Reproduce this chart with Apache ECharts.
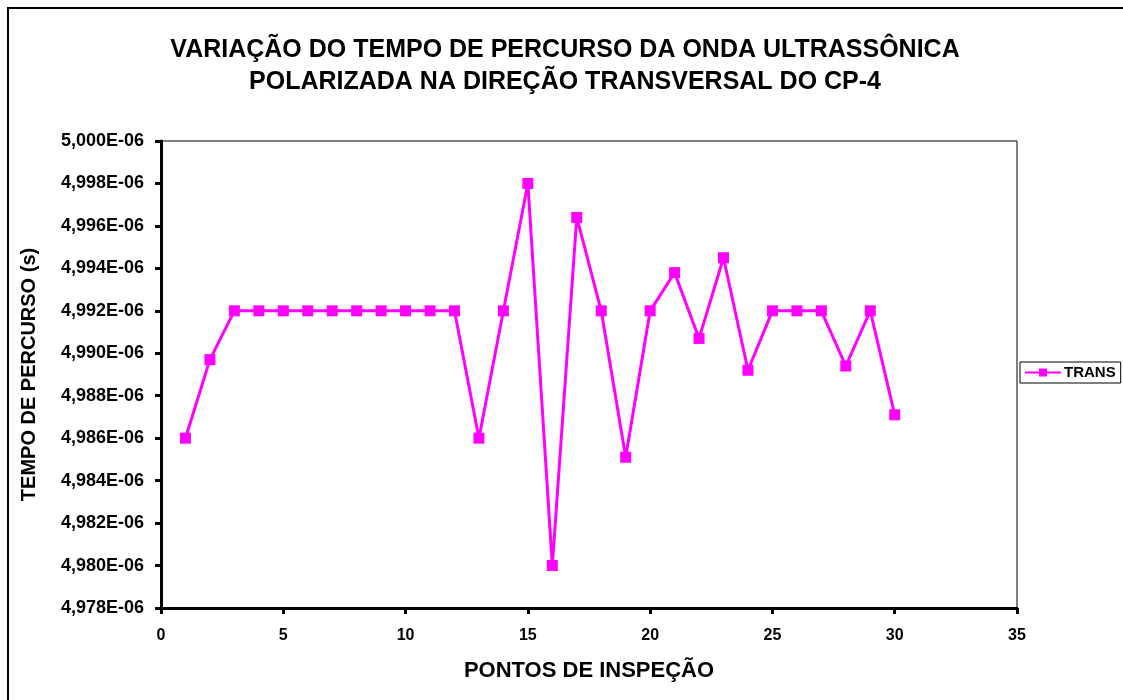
<!DOCTYPE html>
<html>
<head>
<meta charset="utf-8">
<script src="https://cdn.jsdelivr.net/npm/echarts@6/dist/echarts.min.js"></script>
<style>
  html, body { margin: 0; padding: 0; background: #fff; }
  #chart { width: 1123px; height: 700px; }
</style>
</head>
<body>
<div id="chart"></div>
<script>
// Inspection points along the specimen
const points = [1,2,3,4,5,6,7,8,9,10,11,12,13,14,15,16,17,18,19,20,21,22,23,24,25,26,27,28,29,30];
// Travel time in microseconds (shown on the axis as E-06 seconds)
const transTime = [
  4.9860, 4.9897, 4.9920, 4.9920, 4.9920, 4.9920, 4.9920, 4.9920, 4.9920, 4.9920,
  4.9920, 4.9920, 4.9860, 4.9920, 4.9980, 4.9800, 4.9964, 4.9920, 4.9851, 4.9920,
  4.9938, 4.9907, 4.9945, 4.9892, 4.9920, 4.9920, 4.9920, 4.9894, 4.9920, 4.9871
];
const seriesName = 'TRANS';
const titleLines = ['VARIAÇÃO DO TEMPO DE PERCURSO DA ONDA ULTRASSÔNICA', 'POLARIZADA NA DIREÇÃO TRANSVERSAL DO CP-4'];
const xName = 'PONTOS DE INSPEÇÃO';
const yName = 'TEMPO DE PERCURSO (s)';

const font = '"Liberation Sans", Arial, sans-serif';
const chart = echarts.init(document.getElementById('chart'));

chart.setOption({
  backgroundColor: '#ffffff',
  animation: false,
  title: {
    text: titleLines.join('\n'),
    left: 560,
    top: 29,
    textAlign: 'center',
    textStyle: { fontFamily: font, fontWeight: 'bold', fontSize: 25, color: '#000', lineHeight: 32 }
  },
  legend: {
    data: [seriesName],
    left: 1020,
    top: 362,
    padding: [3, 5, 3, 4],
    itemWidth: 36,
    itemHeight: 10,
    itemGap: 4,
    borderColor: '#000',
    borderWidth: 1,
    textStyle: { fontFamily: font, fontWeight: 'bold', fontSize: 15, color: '#000', padding: [0, 0, 0, -2] }
  },
  grid: { left: 161, top: 141, right: 106, bottom: 92, show: true, borderColor: '#000', borderWidth: 1 },
  xAxis: {
    type: 'value',
    min: 0, max: 35, interval: 5,
    name: xName,
    nameLocation: 'middle',
    nameGap: 52,
    nameTextStyle: { fontFamily: font, fontWeight: 'bold', fontSize: 22, color: '#000' },
    axisLine: { lineStyle: { color: '#000', width: 3 } },
    axisTick: { show: true, inside: false, length: 6, lineStyle: { color: '#000', width: 3 } },
    axisLabel: { fontFamily: font, fontWeight: 'bold', fontSize: 16, color: '#000', margin: 20 },
    splitLine: { show: false }
  },
  yAxis: {
    type: 'value',
    min: 4.978, max: 5.000, interval: 0.002,
    name: yName,
    nameLocation: 'middle',
    nameGap: 122,
    nameRotate: 90,
    nameTextStyle: { fontFamily: font, fontWeight: 'bold', fontSize: 20, color: '#000' },
    axisLine: { lineStyle: { color: '#000', width: 3 } },
    axisTick: { show: true, inside: false, length: 6, lineStyle: { color: '#000', width: 3 } },
    axisLabel: {
      fontFamily: font, fontWeight: 'bold', fontSize: 18, color: '#000', margin: 17,
      formatter: v => v.toFixed(3).replace('.', ',') + 'E-06'
    },
    splitLine: { show: false }
  },
  graphic: [{
    type: 'rect',
    shape: { x: 8, y: 8, width: 1125, height: 710 },
    style: { fill: 'none', stroke: '#000', lineWidth: 2 },
    silent: true
  }],
  series: [{
    name: seriesName,
    type: 'line',
    data: points.map((p, i) => [p, transTime[i]]),
    symbol: 'rect',
    symbolSize: 11,
    color: '#ff00ff',
    lineStyle: { color: '#ff00ff', width: 3 },
    itemStyle: { color: '#ff00ff' }
  }]
});
</script>
</body>
</html>
